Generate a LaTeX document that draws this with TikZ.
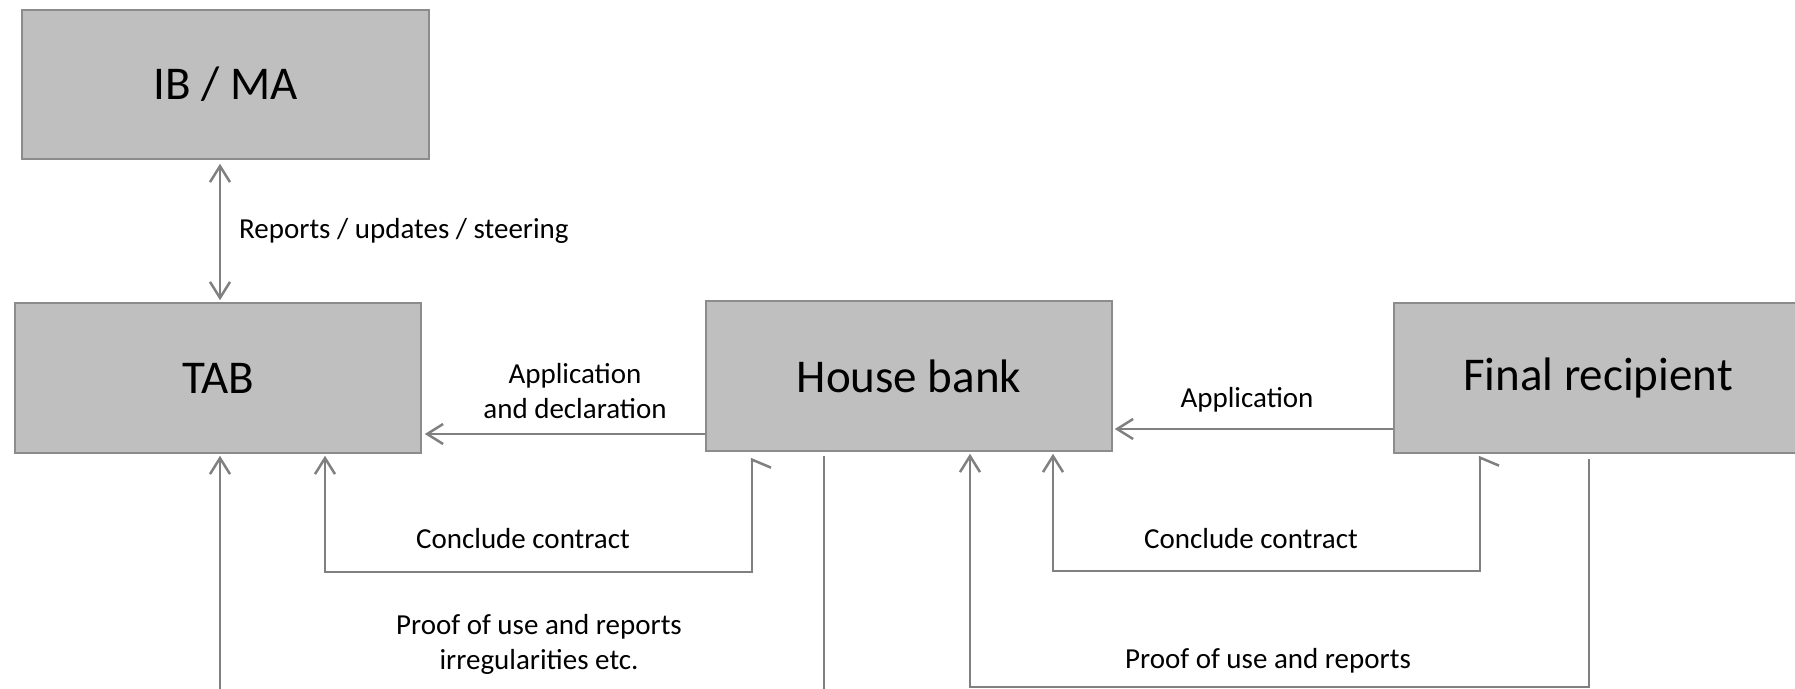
\documentclass[tikz,border=0pt]{standalone}
\usepackage{fontspec}
\setmainfont{Carlito}
\usetikzlibrary{arrows.meta,calc}
\definecolor{boxfill}{HTML}{BFBFBF}
\definecolor{boxline}{HTML}{8C8C8C}
\definecolor{connc}{HTML}{808080}
\begin{document}
\begin{tikzpicture}[x=1pt,y=-1pt,
  box/.style={draw=boxline, line width=1.5pt, fill=boxfill, inner sep=0pt,
    minimum width=406pt, minimum height=150pt, font=\fontsize{47}{56}\selectfont},
  lbl/.style={font=\fontsize{29}{35}\selectfont, align=center, inner sep=0pt},
  conn/.style={draw=connc, line width=2.5pt},
  tipa/.tip={Straight Barb[length=16pt,width=20pt]},
  tiph/.tip={Straight Barb[harpoon,swap,length=8pt,width=38pt]}
]
\useasboundingbox (0,0) rectangle (1795,688);

\node[box, minimum width=407pt, minimum height=149pt] (ib) at (225.5,84.5) {IB / MA};
\node[box] (tab) at (218,378) {TAB};
\node[box] (hb) at (909,376) {House bank};
\node[box, minimum width=408pt] (fr) at (1598,378) {Final recipient};

\coordinate (xa) at (220,0);
\coordinate (xb) at (325,0);
\coordinate (xc) at (752,0);
\coordinate (xd) at (824,0);
\coordinate (xe) at (970,0);
\coordinate (xf) at (1053,0);
\coordinate (xg) at (1480,0);
\coordinate (xh) at (1589,0);
\coordinate (ya) at (0,434);
\coordinate (yb) at (0,429);
\coordinate (yc) at (0,572);
\coordinate (yd) at (0,571);
\coordinate (ye) at (0,687);
\coordinate (yf) at (0,700);

% IB <-> TAB
\draw[conn, tipa-tipa, shorten <=4pt, shorten >=2pt] (ib.south -| xa) -- (tab.north -| xa);
% HB -> TAB application and declaration
\draw[conn, -tipa, shorten >=3pt] (hb.west |- ya) -- (tab.east |- ya);
% FR -> HB application
\draw[conn, -tipa, shorten >=2pt] (fr.west |- yb) -- (hb.east |- yb);
% conclude contract TAB-HB
\draw[conn, tiph-tipa] ($(hb.south -| xc)+(0,6)$) -- (xc |- yc) -- (xb |- yc) -- ($(tab.south -| xb)+(0,2)$);
% conclude contract HB-FR
\draw[conn, tiph-tipa] ($(fr.south -| xg)+(0,2)$) -- (xg |- yd) -- (xf |- yd) -- ($(hb.south -| xf)+(0,2)$);
% proof of use to TAB
\draw[conn, -tipa, shorten >=2pt] (xa |- yf) -- (tab.south -| xa);
\draw[conn] ($(hb.south -| xd)+(0,4)$) -- (xd |- yf);
% proof of use FR -> HB
\draw[conn, -tipa, shorten >=2pt] ($(fr.south -| xh)+(0,5)$) -- (xh |- ye) -- (xe |- ye) -- (hb.south -| xe);

\node[lbl, anchor=west] (l1) at (239,231) {Reports / updates / steering};
\node[lbl] (l2) at (575,391) {Application\\and declaration};
\node[lbl] (l3) at (523,539) {Conclude contract};
\node[lbl] (l4) at (539,644) {Proof of use and reports\\irregularities etc.};
\node[lbl] (l5) at (1247,400) {Application};
\node[lbl] (l6) at (1251,539) {Conclude contract};
\node[lbl] (l7) at (1268,661) {Proof of use and reports};
\end{tikzpicture}
\end{document}
